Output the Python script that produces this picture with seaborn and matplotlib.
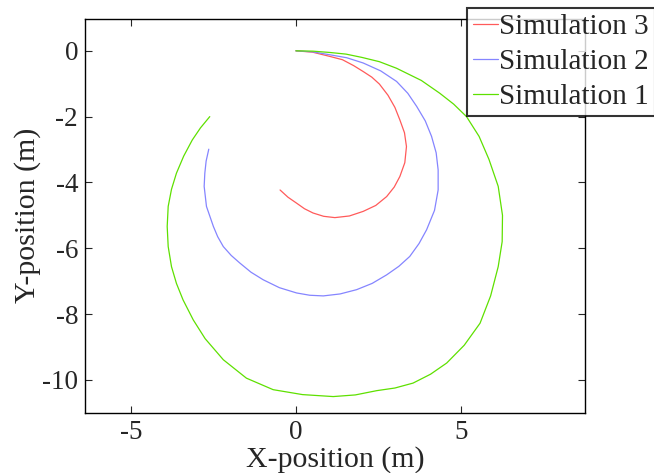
import pandas as pd
import seaborn as sns
import matplotlib.pyplot as plt

# trajectories (metres)
sim1_x = [0, 0.52, 1.03, 1.52, 2.0, 2.53, 3.05, 3.8, 4.36, 4.78, 5.17, 5.55, 5.85, 6.13, 6.26,
          6.25, 6.13, 5.9, 5.58, 5.1, 4.57, 4.08, 3.55, 3.0, 2.45, 1.80, 1.13, 0.2, -0.69,
          -1.5, -2.2, -2.75, -3.11, -3.42, -3.62, -3.77, -3.87, -3.9, -3.87, -3.77, -3.62,
          -3.40, -3.14, -2.89, -2.61]
sim1_y = [0, -0.01, -0.05, -0.10, -0.2, -0.33, -0.53, -0.9, -1.29, -1.62, -2.0, -2.6, -3.3, -4.12, -5.0,
          -5.8, -6.56, -7.45, -8.28, -8.95, -9.49, -9.83, -10.1, -10.25, -10.33, -10.46, -10.51, -10.45, -10.3,
          -9.95, -9.39, -8.75, -8.18, -7.57, -7.07, -6.56, -5.95, -5.34, -4.73, -4.21, -3.72,
          -3.20, -2.71, -2.34, -2.0]

sim2_x = [0, 0.5, 1.03, 1.54, 2.04, 2.57, 3.05, 3.39, 3.66, 3.92, 4.11, 4.25, 4.31, 4.31, 4.2,
          3.96, 3.73, 3.45, 3.12, 2.75, 2.31, 1.84, 1.34, 0.83, 0.42, 0.02, -0.50, -0.99,
          -1.36, -1.7, -1.96, -2.2, -2.37, -2.5, -2.71, -2.78, -2.76, -2.72, -2.64]
sim2_y = [0, -0.03, -0.12, -0.21, -0.37, -0.61, -0.93, -1.29, -1.69, -2.13, -2.6, -3.10, -3.62, -4.23, -4.85,
          -5.44, -5.86, -6.25, -6.55, -6.81, -7.07, -7.26, -7.39, -7.45, -7.43, -7.36, -7.20, -6.96,
          -6.73, -6.45, -6.22, -5.95, -5.65, -5.34, -4.73, -4.12, -3.72, -3.35, -2.99]

sim3_x = [0, 0.5, 1.03, 1.41, 1.75, 2.04, 2.30, 2.53, 2.79, 3.00, 3.15, 3.29, 3.35, 3.3, 3.15,
          2.98, 2.75, 2.42, 2.04, 1.62, 1.18, 0.84, 0.52, 0.26, 0.02, -0.24, -0.48]
sim3_y = [0, -0.04, -0.17, -0.27, -0.45, -0.63, -0.80, -1.01, -1.35, -1.72, -2.1, -2.49, -2.91, -3.4, -3.82,
          -4.14, -4.43, -4.70, -4.88, -5.02, -5.07, -5.03, -4.93, -4.80, -4.63, -4.45, -4.23]

labels = ["Simulation 3", "Simulation 2", "Simulation 1"]
colors = ["#ff5a5a", "#8585ff", "#5ee000"]

frames = []
for lab, xs, ys in [("Simulation 3", sim3_x, sim3_y),
                    ("Simulation 2", sim2_x, sim2_y),
                    ("Simulation 1", sim1_x, sim1_y)]:
    d = pd.DataFrame({"x": xs, "y": ys})
    d["sim"] = lab
    frames.append(d)
df = pd.concat(frames, ignore_index=True)

sns.set_style("ticks")
plt.rcParams['font.family'] = ['Liberation Serif', 'DejaVu Serif']
plt.rcParams['axes.unicode_minus'] = False

fig = plt.figure(figsize=(6.54, 4.73), dpi=100)
ax = fig.add_axes([0.130, 0.1275, 0.7645, 0.8325])

sns.lineplot(data=df, x="x", y="y", hue="sim", hue_order=labels, palette=colors,
             sort=False, estimator=None, units="sim", lw=0.9, ax=ax, legend=False)

ax.set_xlim(-6.39, 8.76)
ax.set_ylim(-11, 0.97)
ax.set_xticks([-5, 0, 5])
ax.set_yticks([0, -2, -4, -6, -8, -10])
ax.tick_params(direction="in", length=5, width=0.8, top=True, right=True, labelsize=19.5, pad=5)
for s in ax.spines.values():
    s.set_linewidth(1.0)
    s.set_color("black")
ax.set_xlabel("X-position (m)", fontsize=21.5, labelpad=1)
ax.set_ylabel("Y-position (m)", fontsize=21.5, labelpad=1)

handles = ax.get_lines()[:3]
leg = fig.legend(handles, labels, loc="upper left", bbox_to_anchor=(0.714, 0.984),
                 fontsize=21, handlelength=0.85, handletextpad=0.05, borderpad=0.2,
                 labelspacing=0.3, frameon=True, fancybox=False, borderaxespad=0)
leg.get_frame().set_edgecolor("black")
leg.get_frame().set_linewidth(1.5)

fig.savefig("out.png", dpi=100)
